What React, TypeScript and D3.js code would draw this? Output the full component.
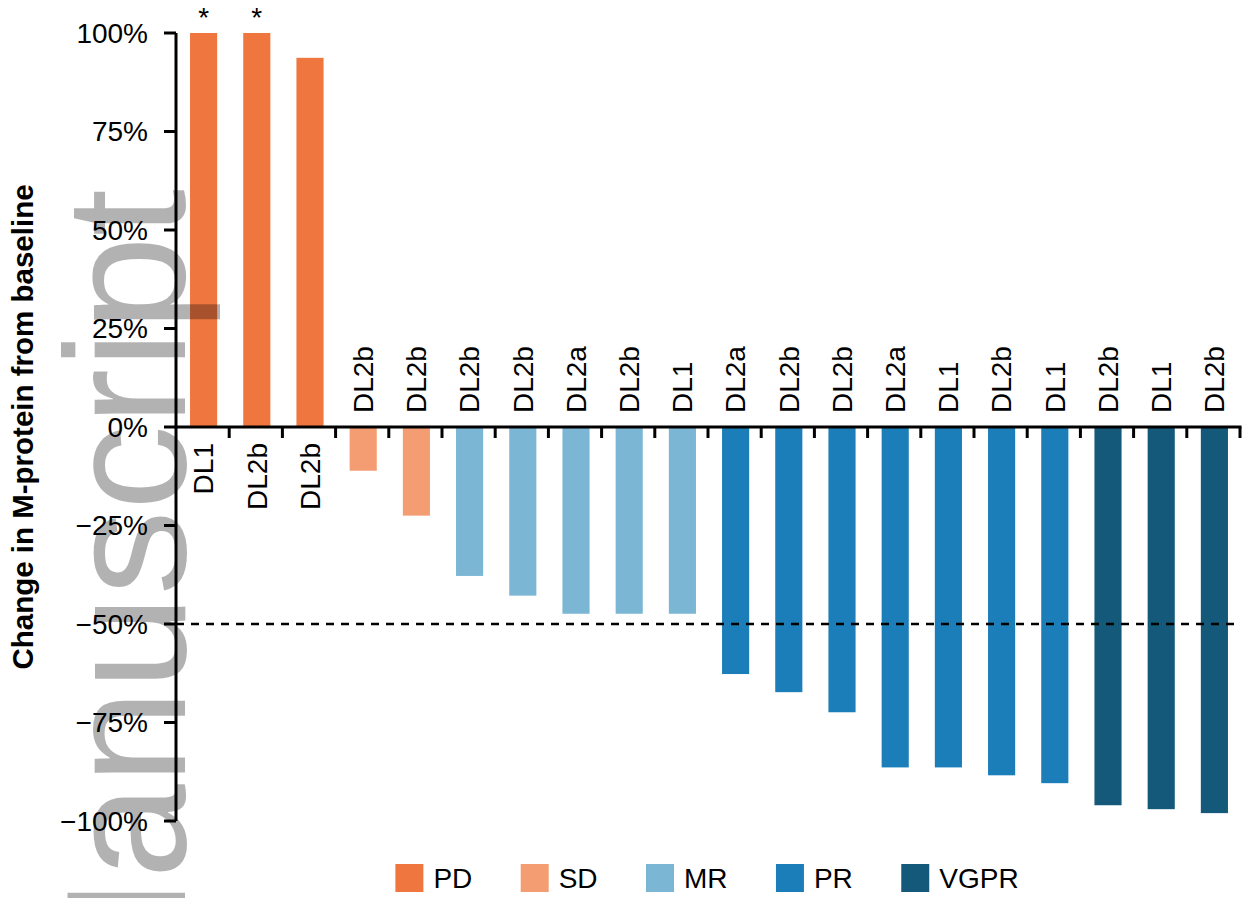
import { useEffect, useRef } from "react";
import * as d3 from "d3";

// one entry per patient, sorted as in the waterfall
const doseLevels = [
  "DL1", "DL2b", "DL2b", "DL2b", "DL2b", "DL2b", "DL2b", "DL2a", "DL2b", "DL1",
  "DL2a", "DL2b", "DL2b", "DL2a", "DL1", "DL2b", "DL1", "DL2b", "DL1", "DL2b",
];
const changes = [
  100, 100, 93.7, -11.1, -22.5, -37.8, -42.8, -47.4, -47.4, -47.4,
  -62.7, -67.3, -72.4, -86.4, -86.4, -88.4, -90.4, -96, -97, -98,
];
const responses = [
  "PD", "PD", "PD", "SD", "SD", "MR", "MR", "MR", "MR", "MR",
  "PR", "PR", "PR", "PR", "PR", "PR", "PR", "VGPR", "VGPR", "VGPR",
];
// bars cut off at 100% (increase > 100%)
const capped = [true, true, false, false, false, false, false, false, false, false,
  false, false, false, false, false, false, false, false, false, false];

const responseTypes = ["PD", "SD", "MR", "PR", "VGPR"];
const responseColors = ["#f0763f", "#f59d72", "#7bb6d4", "#1c7eb9", "#14597a"];
const yTicks = [-100, -75, -50, -25, 0, 25, 50, 75, 100];
const threshold = -50;

const W = 1244;
const H = 898;
const FONT = "'Liberation Sans', Arial, Helvetica, sans-serif";

export default function App() {
  const ref = useRef<SVGSVGElement | null>(null);

  useEffect(() => {
    document.body.style.margin = "0";
    if (!ref.current) return;
    const svg = d3.select(ref.current);
    svg.selectAll("*").remove();

    const x0 = 176;
    const x1 = 1240;
    const y = d3.scaleLinear().domain([-100, 100]).range([821, 33]);
    const x = d3
      .scaleBand<number>()
      .domain(d3.range(changes.length))
      .range([x0, x1])
      .paddingInner(0.49)
      .paddingOuter(0.245);
    const color = d3.scaleOrdinal<string, string>().domain(responseTypes).range(responseColors);
    const step = x.step();

    // bars
    svg
      .append("g")
      .selectAll("rect")
      .data(changes)
      .enter()
      .append("rect")
      .attr("x", (_, i) => x(i)! + 1)
      .attr("width", x.bandwidth())
      .attr("y", (d) => Math.min(y(d), y(0)))
      .attr("height", (d) => Math.abs(y(d) - y(0)))
      .attr("fill", (_, i) => color(responses[i]));

    // asterisks for capped bars
    svg
      .append("g")
      .selectAll("text")
      .data(changes.map((d, i) => ({ d, i })).filter((o) => capped[o.i]))
      .enter()
      .append("text")
      .attr("x", (o) => x(o.i)! + 1 + x.bandwidth() / 2)
      .attr("y", 27)
      .attr("text-anchor", "middle")
      .attr("font-family", FONT)
      .attr("font-size", 28)
      .text("*");

    // -50% reference line
    svg
      .append("line")
      .attr("x1", x0)
      .attr("x2", x1)
      .attr("y1", y(threshold))
      .attr("y2", y(threshold))
      .attr("stroke", "#000")
      .attr("stroke-width", 2.6)
      .attr("stroke-dasharray", "8,7");

    // y axis
    const yAxis = svg.append("g");
    yAxis
      .append("line")
      .attr("x1", x0)
      .attr("x2", x0)
      .attr("y1", y(100))
      .attr("y2", y(-100))
      .attr("stroke", "#000")
      .attr("stroke-width", 3);
    const yt = yAxis.selectAll("g").data(yTicks).enter().append("g");
    yt.append("line")
      .attr("x1", x0 - 12)
      .attr("x2", x0)
      .attr("y1", (d) => y(d))
      .attr("y2", (d) => y(d))
      .attr("stroke", "#000")
      .attr("stroke-width", 3);
    yt.append("text")
      .attr("x", x0 - 28)
      .attr("y", (d) => y(d))
      .attr("dy", "0.35em")
      .attr("text-anchor", "end")
      .attr("font-family", FONT)
      .attr("font-size", 28)
      .text((d) => (d < 0 ? "\u2212" + Math.abs(d) : d) + "%");

    svg
      .append("text")
      .attr("transform", `translate(33,${(y(100) + y(-100)) / 2}) rotate(-90)`)
      .attr("text-anchor", "middle")
      .attr("font-family", FONT)
      .attr("font-weight", "bold")
      .attr("font-size", 29.5)
      .text("Change in M-protein from baseline");

    // x axis with ticks between bars
    const xAxis = svg.append("g");
    xAxis
      .append("line")
      .attr("x1", x0 - 1.5)
      .attr("x2", x1 + 1.5)
      .attr("y1", y(0))
      .attr("y2", y(0))
      .attr("stroke", "#000")
      .attr("stroke-width", 3);
    xAxis
      .selectAll("line.tick")
      .data(changes)
      .enter()
      .append("line")
      .attr("class", "tick")
      .attr("x1", (_, i) => x(i)! + x.bandwidth() / 2 + step / 2)
      .attr("x2", (_, i) => x(i)! + x.bandwidth() / 2 + step / 2)
      .attr("y1", y(0))
      .attr("y2", y(0) + 11)
      .attr("stroke", "#000")
      .attr("stroke-width", 3);

    // dose level labels
    svg
      .append("g")
      .selectAll("text")
      .data(changes)
      .enter()
      .append("text")
      .attr("transform", (d, i) => {
        const cx = x(i)! + 1 + x.bandwidth() / 2;
        const ty = d >= 0 ? y(0) + 16 : y(0) - 14;
        return `translate(${cx},${ty}) rotate(-90)`;
      })
      .attr("dy", "0.35em")
      .attr("text-anchor", (d) => (d >= 0 ? "end" : "start"))
      .attr("font-family", FONT)
      .attr("font-size", 28)
      .text((_, i) => doseLevels[i]);

    // legend, centred under the plot
    const legend = svg.append("g");
    const items = legend
      .selectAll("g")
      .data(responseTypes)
      .enter()
      .append("g");
    items
      .append("rect")
      .attr("width", 28)
      .attr("height", 28)
      .attr("y", 864)
      .attr("fill", (d) => color(d));
    const labels = items
      .append("text")
      .attr("x", 38)
      .attr("y", 888)
      .attr("font-family", FONT)
      .attr("font-size", 28)
      .text((d) => d);
    const widths: number[] = [];
    labels.each(function () {
      widths.push((this as SVGTextElement).getComputedTextLength());
    });
    const gap = 48.4;
    const total = d3.sum(widths) + widths.length * 38 + (widths.length - 1) * gap;
    let cursor = (x0 + x1) / 2 - total / 2 - 1;
    const offs: number[] = [];
    widths.forEach((w) => {
      offs.push(cursor);
      cursor += 38 + w + gap;
    });
    items.attr("transform", (_, i) => `translate(${offs[i]},0)`);

    // watermark
    svg
      .append("text")
      .attr("transform", "translate(185,189) rotate(-90)")
      .attr("text-anchor", "end")
      .attr("font-family", FONT)
      .attr("font-size", 170)
      .attr("fill", "#000")
      .attr("fill-opacity", 0.3)
      .text("Manuscript");
  }, []);

  return (
    <svg
      ref={ref}
      width={W}
      height={H}
      viewBox={`0 0 ${W} ${H}`}
      style={{ display: "block", background: "#fff" }}
    />
  );
}
